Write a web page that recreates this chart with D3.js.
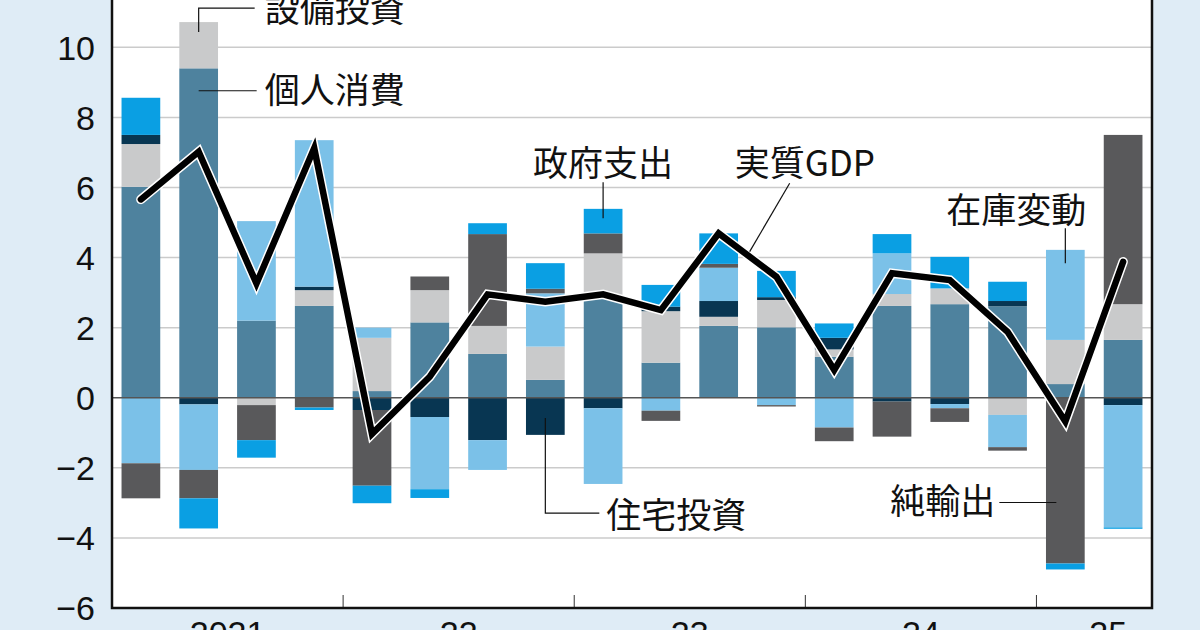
<!DOCTYPE html>
<html>
<head>
<meta charset="utf-8">
<script src="https://cdn.jsdelivr.net/npm/d3@7"></script>
<style>
  html, body { margin: 0; padding: 0; background: #dfecf6; }
  svg { display: block; }
</style>
</head>
<body>
<div id="app"></div>
<script>
// quarters 2021Q1 .. 2025Q2
const quarters = ['2021Q1', '2021Q2', '2021Q3', '2021Q4', '2022Q1', '2022Q2', '2022Q3', '2022Q4',
  '2023Q1', '2023Q2', '2023Q3', '2023Q4', '2024Q1', '2024Q2', '2024Q3', '2024Q4', '2025Q1', '2025Q2'];

// contributions, percentage points
const consumption = [6.02, 9.40, 2.20, 2.62, 0.19, 2.15, 1.25, 0.51, 2.85, 1.00, 2.05, 2.01, 1.17, 2.62, 2.67, 2.61, 0.39, 1.65];
const investment = [1.22, 1.32, -0.21, 0.45, 1.52, 0.92, 0.80, 0.95, 1.27, 1.47, 0.26, 0.78, 0.21, 0.34, 0.45, -0.49, 1.26, 1.02];
const housing = [0.26, -0.19, 0, 0.10, -0.35, -0.55, -1.21, -1.06, -0.30, 0.13, 0.45, 0.08, 0.33, -0.11, -0.18, 0.15, 0, -0.21];
const inventory = [-1.87, -1.87, 2.84, 4.18, 0.29, -2.06, -0.85, 1.52, -2.16, -0.37, 0.95, -0.21, -0.85, 1.16, -0.12, -0.92, 2.57, -3.49];
const netExports = [-1.00, -0.81, -1.00, -0.28, -2.16, 0.39, 2.62, 0.13, 0.57, -0.29, 0.11, -0.04, -0.39, -1.00, -0.39, -0.10, -4.73, 4.83];
const government = [1.06, -0.86, -0.50, -0.07, -0.50, -0.25, 0.31, 0.73, 0.70, 0.62, 0.87, 0.75, 0.41, 0.55, 0.90, 0.55, -0.17, -0.04];

// real GDP growth (annualized)
const gdp = [5.66, 7.02, 3.26, 7.12, -1.03, 0.60, 2.95, 2.74, 2.95, 2.50, 4.69, 3.45, 0.79, 3.55, 3.36, 1.88, -0.68, 3.88];

const yTicks = [-6, -4, -2, 0, 2, 4, 6, 8, 10];
const yearLabels = ['2021', '22', '23', '24', '25'];

const seriesKeys = ['consumption', 'investment', 'housing', 'inventory', 'netExports', 'government'];
const seriesColors = {
  consumption: '#4e829e',
  investment: '#c9cacb',
  housing: '#083652',
  inventory: '#7bc1e8',
  netExports: '#59595b',
  government: '#0a9fe3'
};

const rows = quarters.map((q, i) => ({
  q,
  consumption: consumption[i],
  investment: investment[i],
  housing: housing[i],
  inventory: inventory[i],
  netExports: netExports[i],
  government: government[i]
}));

const width = 1200, height = 630;
const plot = { left: 112, right: 1152, top: 0, bottom: 608 };

const svg = d3.select('#app').append('svg')
    .attr('width', width)
    .attr('height', height);

svg.append('rect')
    .attr('width', width)
    .attr('height', height)
    .attr('fill', '#dfecf6');

const x = d3.scaleBand()
    .domain(quarters)
    .range([plot.left, plot.right])
    .paddingInner(0.33)
    .paddingOuter(0.165);

const y = d3.scaleLinear()
    .domain([-6, 11.35])
    .range([plot.bottom, plot.top]);

// plot background
svg.append('rect')
    .attr('x', plot.left)
    .attr('y', plot.top)
    .attr('width', plot.right - plot.left)
    .attr('height', plot.bottom - plot.top)
    .attr('fill', '#fff');

// grid
svg.append('g')
    .selectAll('line')
    .data(yTicks.filter(d => d !== 0 && d !== -6))
    .join('line')
    .attr('x1', plot.left)
    .attr('x2', plot.right)
    .attr('y1', d => y(d))
    .attr('y2', d => y(d))
    .attr('stroke', '#cbcbcb')
    .attr('stroke-width', 1.5);

// stacked bars
const stacked = d3.stack()
    .keys(seriesKeys)
    .offset(d3.stackOffsetDiverging)(rows);

svg.append('g')
    .selectAll('g')
    .data(stacked)
    .join('g')
    .attr('fill', d => seriesColors[d.key])
    .selectAll('rect')
    .data(d => d)
    .join('rect')
    .attr('x', d => x(d.data.q))
    .attr('width', x.bandwidth())
    .attr('y', d => y(Math.max(d[0], d[1])))
    .attr('height', d => Math.abs(y(d[0]) - y(d[1])));

// zero line
svg.append('line')
    .attr('x1', plot.left)
    .attr('x2', plot.right)
    .attr('y1', y(0))
    .attr('y2', y(0))
    .attr('stroke', '#555')
    .attr('stroke-width', 1.5);

// year separators
const step = x.step();
const yearStarts = [4, 8, 12, 16].map(i => plot.left + i * step);
svg.append('g')
    .selectAll('line')
    .data(yearStarts)
    .join('line')
    .attr('x1', d => d)
    .attr('x2', d => d)
    .attr('y1', plot.bottom - 13)
    .attr('y2', plot.bottom)
    .attr('stroke', '#333')
    .attr('stroke-width', 1);

// frame: left, bottom, right
svg.append('path')
    .attr('d', `M${plot.left},${plot.top}V${plot.bottom}H${plot.right}V${plot.top}`)
    .attr('fill', 'none')
    .attr('stroke', '#111')
    .attr('stroke-width', 2.5);

// y axis labels
svg.append('g')
    .selectAll('text')
    .data(yTicks)
    .join('text')
    .attr('x', 95)
    .attr('y', d => y(d))
    .attr('dy', '0.36em')
    .attr('text-anchor', 'end')
    .style('font-family', '"Liberation Sans", Arial, sans-serif')
    .style('font-size', '34px')
    .attr('fill', '#111')
    .text(d => d3.format('d')(d));

// x labels (year centres)
const yearCenters = yearLabels.map((lab, i) => {
  const qs = quarters.slice(i * 4, i * 4 + 4);
  const c = d3.mean(qs, q => x(q) + x.bandwidth() / 2);
  return qs.length < 4 ? c + 14 : c;
});
svg.append('g')
    .selectAll('text')
    .data(yearLabels)
    .join('text')
    .attr('x', (d, i) => yearCenters[i])
    .attr('y', 645)
    .attr('text-anchor', 'middle')
    .style('font-family', '"Liberation Sans", Arial, sans-serif')
    .style('font-size', '34px')
    .attr('fill', '#111')
    .text(d => d);

// GDP line
const line = d3.line()
    .x((d, i) => x(quarters[i]) + x.bandwidth() / 2)
    .y(d => y(d));

svg.append('path')
    .datum(gdp)
    .attr('d', line)
    .attr('fill', 'none')
    .attr('stroke', '#fff')
    .attr('stroke-width', 9.5)
    .attr('stroke-linejoin', 'miter')
    .attr('stroke-linecap', 'round');

svg.append('path')
    .datum(gdp)
    .attr('d', line)
    .attr('fill', 'none')
    .attr('stroke', '#000')
    .attr('stroke-width', 6.5)
    .attr('stroke-linejoin', 'miter')
    .attr('stroke-linecap', 'round');

// annotations: leader line points given as [quarter, value] or px offsets from bar centre
const cx = q => x(q) + x.bandwidth() / 2;
const labelFont = '"Noto Sans CJK JP", "Noto Sans", sans-serif';
const ann = svg.append('g')
    .attr('fill', 'none')
    .attr('stroke', '#111')
    .attr('stroke-width', 1.2);

function leader(points) {
  ann.append('path').attr('d', d3.line()(points));
}

function label(txt, tx, ty, anchor) {
  svg.append('text')
      .attr('x', tx)
      .attr('y', ty)
      .attr('dy', '0.36em')
      .attr('text-anchor', anchor)
      .style('font-family', labelFont)
      .style('font-size', '35px')
      .attr('fill', '#111')
      .text(txt);
}

// 設備投資
leader([[cx('2021Q2'), y(10.44)], [cx('2021Q2'), y(11.12)], [cx('2021Q2') + 56, y(11.12)]]);
label('設備投資', cx('2021Q2') + 66, y(11.07), 'start');

// 個人消費
leader([[cx('2021Q2'), y(8.76)], [cx('2021Q2') + 58, y(8.76)]]);
label('個人消費', cx('2021Q2') + 66, y(8.78), 'start');

// 政府支出
leader([[cx('2023Q1'), y(5.12)], [cx('2023Q1'), y(6.15)]]);
label('政府支出', cx('2023Q1'), y(6.68), 'middle');

// 実質GDP
leader([[cx('2023Q3') + 31, y(4.17)], [cx('2023Q3') + 71, y(6.12)]]);
label('実質GDP', cx('2023Q3') + 16, y(6.70), 'start');

// 在庫変動
leader([[cx('2025Q1'), y(3.84)], [cx('2025Q1'), y(4.84)]]);
label('在庫変動', cx('2025Q1') + 21, y(5.35), 'end');

// 住宅投資
leader([[cx('2022Q4'), y(-0.58)], [cx('2022Q4'), y(-3.29)], [cx('2022Q4') + 54, y(-3.29)]]);
label('住宅投資', cx('2022Q4') + 61, y(-3.37), 'start');

// 純輸出
leader([[cx('2025Q1') - 9, y(-2.99)], [cx('2025Q1') - 66, y(-2.99)]]);
label('純輸出', cx('2025Q1') - 70, y(-2.96), 'end');
</script>
</body>
</html>
